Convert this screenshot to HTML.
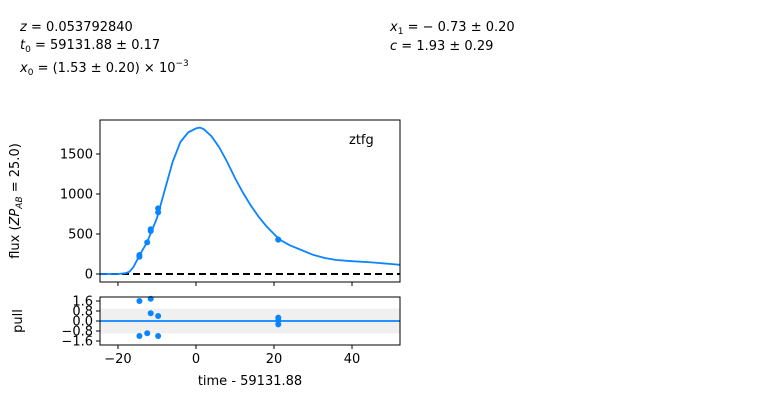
<!DOCTYPE html>
<html><head><meta charset="utf-8"><style>
body{margin:0;background:#fff;}
svg{display:block;font-family:"DejaVu Sans","Liberation Sans",sans-serif;}
</style></head><body>
<svg id="c" width="780" height="415" viewBox="0 0 780 415">
<g font-size="13" fill="#000">
<text x="20" y="31"><tspan font-style="italic">z</tspan> = 0.053792840</text>
<text x="20" y="49"><tspan font-style="italic">t</tspan><tspan font-size="9" dy="3">0</tspan><tspan dy="-3"> = 59131.88 ± 0.17</tspan></text>
<text x="20" y="72"><tspan font-style="italic">x</tspan><tspan font-size="9" dy="3">0</tspan><tspan dy="-3"> = (1.53 ± 0.20) × 10</tspan><tspan font-size="9" dy="-6">−3</tspan></text>
<text x="390" y="31"><tspan font-style="italic">x</tspan><tspan font-size="9" dy="3">1</tspan><tspan dy="-3"> = − 0.73 ± 0.20</tspan></text>
<text x="390" y="50"><tspan font-style="italic">c</tspan> = 1.93 ± 0.29</text>
</g>
<g id="main"></g>
<g id="pull"></g>
</svg>
<script>
const modelT=[-24.6,-20,-18,-17,-16,-14.5,-12.5,-10,-8,-6,-4,-2,0,1,2,4,6,8,10,12,14,16,18,20,21.5,24,27,30,33,36,40,45,50,52.3];
const modelFlux=[0,0,10,30,90,230,400,700,1050,1400,1650,1770,1820,1830,1810,1720,1580,1400,1200,1020,860,720,600,500,430,360,300,240,200,175,160,145,125,115];
const obsT=[-14.5,-14.5,-12.5,-11.6,-11.6,-9.7,-9.7,21.1,21.1];
const obsFlux=[216,238,396,537,559,771,821,429,429];
const pullT=[-14.5,-14.5,-12.5,-11.6,-11.6,-9.7,-9.7,21.1,21.1,21.1];
const pullVals=[1.6,-1.2,-0.98,1.78,0.62,0.4,-1.2,0.27,0.03,-0.27];
const xTicks=[-20,0,20,40];
const yTicks=[0,500,1000,1500];
const pullTicks=[1.6,0.8,0.0,-0.8,-1.6];
const pullTickLabels=["1.6","0.8","0.0","−0.8","−1.6"];

const NS="http://www.w3.org/2000/svg";
function mk(p,t,a){const e=document.createElementNS(NS,t);for(const k in a)e.setAttribute(k,a[k]);p.appendChild(e);return e;}
const L=100,R=400;
const sx=t=>L+(t-(-24.6))/(52.3+24.6)*(R-L);
const MT=120,MB=282;const sy=v=>MB-(v+100)/(1925+100)*(MB-MT);
const PT=297,PB=345;const py=v=>PB-(v+1.92)/(3.84)*(PB-PT);
const blue="#0a84ff";
const main=document.getElementById('main');
const pull=document.getElementById('pull');

// main panel
let d=modelT.map((t,i)=>(i?'L':'M')+sx(t).toFixed(1)+' '+sy(modelFlux[i]).toFixed(1)).join(' ');
const cp=mk(main,'clipPath',{id:'cm'});mk(cp,'rect',{x:L,y:MT,width:R-L,height:MB-MT});
let z=mk(main,'line',{x1:L,x2:R,y1:sy(0),y2:sy(0),stroke:'#000','stroke-width':2,'stroke-dasharray':'7,4'});


let m=mk(main,'path',{d:d,fill:'none',stroke:blue,'stroke-width':1.8,'clip-path':'url(#cm)'});


obsT.forEach((t,i)=>{const c=mk(main,'circle',{cx:sx(t),cy:sy(obsFlux[i]),r:3,fill:blue});

});
mk(main,'rect',{x:L,y:MT,width:R-L,height:MB-MT,fill:'none',stroke:'#000','stroke-width':1});
xTicks.forEach(t=>{mk(main,'line',{x1:sx(t),x2:sx(t),y1:MB,y2:MB+4,stroke:'#000'});});
yTicks.forEach(v=>{mk(main,'line',{x1:L-4,x2:L,y1:sy(v),y2:sy(v),stroke:'#000'});
const tx=mk(main,'text',{x:L-7,y:sy(v)+4.5,'text-anchor':'end','font-size':13});tx.textContent=v;

});
let lg=mk(main,'text',{x:349,y:144,'font-size':13});lg.textContent='ztfg';


let yl=mk(main,'text',{transform:'translate(19,201) rotate(-90)','text-anchor':'middle','font-size':13});
yl.innerHTML='flux (<tspan font-style="italic">ZP</tspan><tspan font-size="9" dy="3" font-style="italic">AB</tspan><tspan dy="-3"> = 25.0)</tspan>';



// pull panel
let band=mk(pull,'rect',{x:L,y:py(1),width:R-L,height:py(-1)-py(1),fill:'#f0f0f0'});


let pl=mk(pull,'line',{x1:L,x2:R,y1:py(0),y2:py(0),stroke:blue,'stroke-width':1.8});


pullT.forEach((t,i)=>{const c=mk(pull,'circle',{cx:sx(t),cy:py(pullVals[i]),r:3,fill:blue});

});
mk(pull,'rect',{x:L,y:PT,width:R-L,height:PB-PT,fill:'none',stroke:'#000','stroke-width':1});
pullTicks.forEach((v,i)=>{mk(pull,'line',{x1:L-4,x2:L,y1:py(v),y2:py(v),stroke:'#000'});
const tx=mk(pull,'text',{x:L-7,y:py(v)+4.5,'text-anchor':'end','font-size':13});tx.textContent=pullTickLabels[i];

});
xTicks.forEach(t=>{mk(pull,'line',{x1:sx(t),x2:sx(t),y1:PB,y2:PB+4,stroke:'#000'});
const tx=mk(pull,'text',{x:sx(t),y:PB+18,'text-anchor':'middle','font-size':13});tx.textContent=String(t).replace('-','−');

});
let pt=mk(pull,'text',{transform:'translate(22,321) rotate(-90)','text-anchor':'middle','font-size':13});pt.textContent='pull';


let xt=mk(pull,'text',{x:250,y:385,'text-anchor':'middle','font-size':13});xt.textContent='time - 59131.88';


</script>
</body></html>
